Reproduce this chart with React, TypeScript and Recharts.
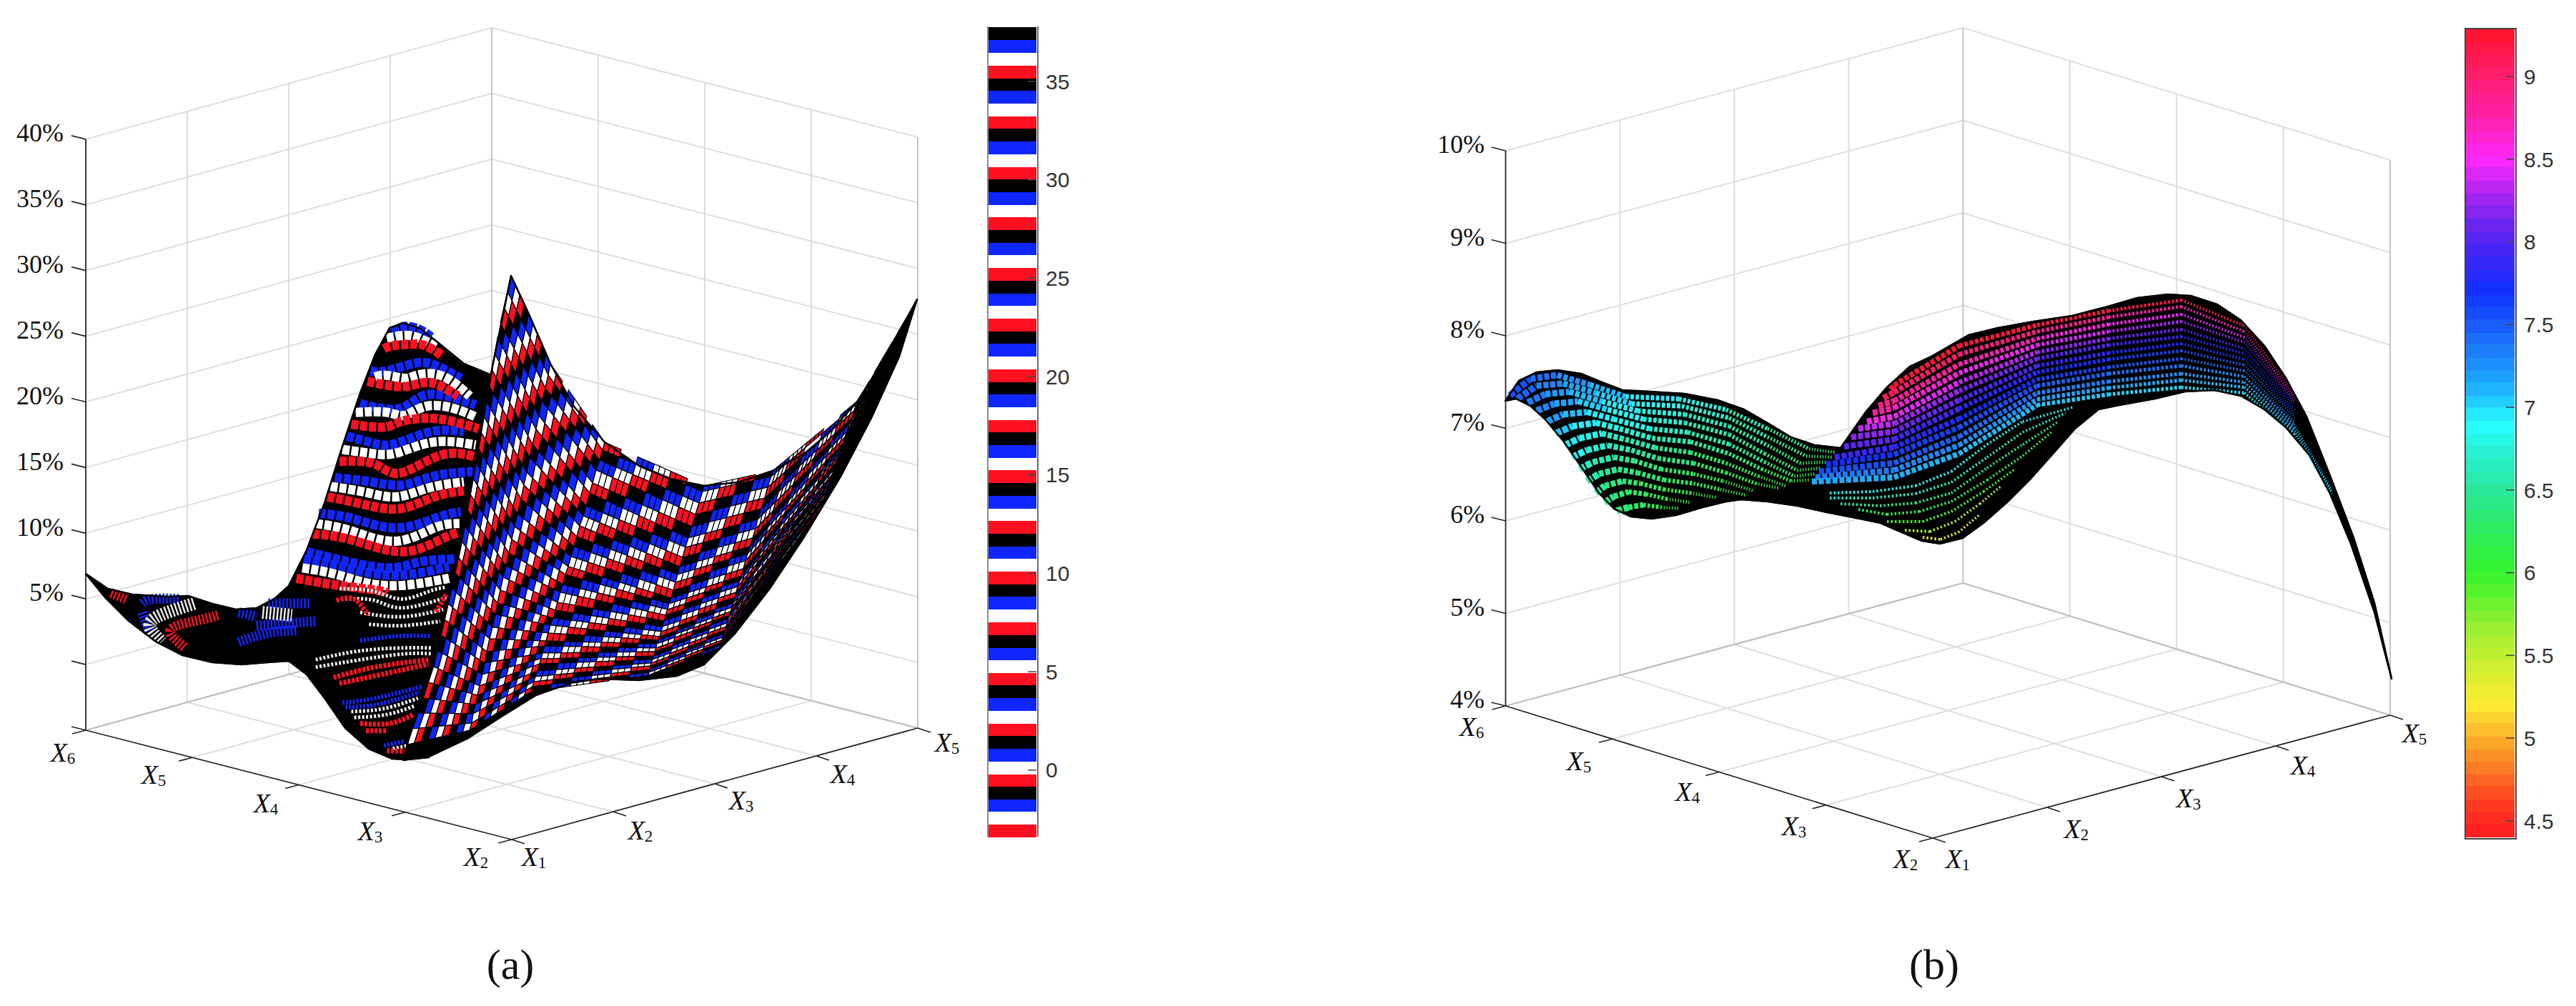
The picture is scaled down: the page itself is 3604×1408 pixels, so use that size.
import { ScatterChart, Scatter, XAxis, YAxis, BarChart, Bar } from "recharts";

// ---- colorbar band edges, read bottom to top
const bandEdgesA = [-3.42,-2.78,-2.13,-1.49,-0.85,-0.21,0.44,1.08,1.72,2.37,3.01,3.65,4.3,4.94,5.58,6.22,6.87,7.51,8.15,8.8,9.44,10.08,10.73,11.37,12.01,12.66,13.3,13.94,14.58,15.23,15.87,16.51,17.16,17.8,18.44,19.09,19.73,20.37,21.01,21.66,22.3,22.94,23.59,24.23,24.87,25.52,26.16,26.8,27.44,28.09,28.73,29.37,30.02,30.66,31.3,31.95,32.59,33.23,33.87,34.52,35.16,35.8,36.45,37.09,37.76];
const bandEdgesB = [4.4,4.48,4.55,4.63,4.71,4.78,4.86,4.93,5.01,5.09,5.16,5.24,5.32,5.39,5.47,5.55,5.62,5.7,5.77,5.85,5.93,6,6.08,6.16,6.23,6.31,6.38,6.46,6.54,6.61,6.69,6.77,6.84,6.92,7,7.07,7.15,7.22,7.3,7.38,7.45,7.53,7.61,7.68,7.76,7.83,7.91,7.99,8.06,8.14,8.22,8.29,8.37,8.45,8.52,8.6,8.67,8.75,8.83,8.9,8.98,9.06,9.13,9.21,9.29];
const cbarTicksA = [0, 5, 10, 15, 20, 25, 30, 35];
const cbarTicksB = [4.5, 5, 5.5, 6, 6.5, 7, 7.5, 8, 8.5, 9];

// ---- axis ticks
const zTicksA = [-5, 0, 5, 10, 15, 20, 25, 30, 35, 40];
const zTicksB = [4, 5, 6, 7, 8, 9, 10];
const leftNames = ["X6", "X5", "X4", "X3", "X2"];
const rightNames = ["X1", "X2", "X3", "X4", "X5"];

// ---- panel (a) outlines
const aOutline = [120,803,151,824,185,832,234,835,263,834,297,845,330,853,359,851,384,838,404,820,429,770,454,704,479,625,504,550,525,496,545,459,564,452,587,459,616,482,649,509,690,526,690,700,600,1060,570,1063,549,1062,516,1048,483,1019,454,977,429,944,404,925,375,927,338,930,297,927,255,917,218,898,180,869,147,836];
const aFlankOutline = [715,386,741,442,770,509,803,569,846,619,894,652,937,670,985,680,1033,675,1081,659,1124,636,1162,604,1200,561,1243,494,1283,419,1258,499,1219,585,1176,667,1124,753,1076,825,1028,887,985,930,947,946,894,952,837,950,798,956,750,973,703,1002,655,1033,602,1058,564,1064,573,1030,588,987,607,930,626,848,643,772,664,657,688,518];

// ---- panel (a) flank: mesh rows read at six columns of the sheet
const flankEdge = [715,386,710,408,705,430,700,452,696,473,692,495,688,517,684,539,680,561,677,583,673,605,669,627,666,648,662,670,658,692,654,714,650,736,646,758,641,780,637,802,632,823,627,845,622,867,617,889,612,911,606,933,599,955,592,977,585,998,577,1020,570,1042];
const flankColA = [770,509,767,525,763,543,758,561,754,582,750,601,745,622,741,640,737,661,733,679,729,698,724,719,720,737,716,755,712,774,708,792,704,808,700,826,696,844,693,860,689,878,685,894,681,912,678,928,675,944,671,960,668,973,665,986,662,999,660,1012,657,1022];
const flankColB = [846,619,843,630,839,644,834,658,829,676,825,690,820,708,816,722,811,736,807,751,803,765,799,779,795,793,791,804,787,818,784,829,780,843,777,854,774,865,770,875,767,886,764,897,762,904,759,914,757,922,755,929,752,939,749,947,747,954,745,961,743,968];
const flankColC = [985,680,983,688,978,704,973,720,968,737,963,753,959,766,955,780,951,793,948,804,945,815,942,826,939,837,936,845,934,853,931,861,929,869,927,877,925,884,923,891,921,896,919,901,918,907,916,912,915,918,913,923,911,928,910,932,909,937,908,941,907,945];
const flankColD = [1081,659,1079,667,1074,682,1070,697,1065,712,1060,727,1057,740,1053,753,1049,765,1046,775,1043,785,1040,796,1037,806,1035,813,1032,821,1030,829,1028,836,1026,844,1024,850,1022,856,1020,861,1019,866,1017,872,1016,877,1014,882,1013,887,1011,892,1010,896,1009,899,1008,903,1006,907];
const flankColE = [1200,561,1198,566,1195,575,1192,585,1188,594,1185,604,1182,612,1180,620,1177,628,1175,634,1172,640,1170,647,1168,653,1166,658,1165,663,1163,668,1161,672,1160,677,1158,681,1157,685,1156,688,1155,691,1154,695,1153,698,1152,701,1150,704,1149,707,1149,710,1148,712,1147,714,1146,717];
const flankTip = [1281, 423];

// ---- panel (a) contour stripes, read in the crop at (110,430)
const ridgeBlue = [
  [1060,85,1100,65,1150,75,1190,100],
  [985,215,1040,215,1130,190,1200,195,1290,240],
  [950,325,1010,340,1090,340,1160,300,1240,300,1340,330],
  [905,435,1000,460,1070,460,1190,420,1300,420],
  [865,575,990,590,1095,600,1200,570,1330,555],
  [810,695,930,715,1075,745,1210,710,1290,690],
  [770,825,870,850,1040,880,1150,860,1270,850],
  [760,850,880,875,1060,905,1250,875],
];
const ridgeWhite = [
  [1040,105,1100,95,1150,105,1210,135],
  [1000,235,1040,230,1100,240,1140,230,1200,225,1260,250,1320,300],
  [935,355,1040,355,1100,365,1170,335,1260,340,1340,370],
  [890,480,1000,495,1080,490,1200,455,1340,465],
  [850,605,970,625,1075,640,1180,610,1300,590],
  [800,730,920,755,1070,790,1200,745,1285,730],
  [755,880,880,905,1040,940,1250,915],
];
const ridgeRed = [
  [1030,140,1060,130,1120,125,1170,130,1230,165],
  [975,250,1050,265,1120,265,1190,255,1280,300],
  [920,395,1030,405,1090,385,1190,375,1280,390,1350,410],
  [880,520,1000,530,1085,560,1220,500,1340,505],
  [840,640,960,665,1085,680,1200,640,1300,620],
  [790,765,920,785,1090,825,1220,785,1280,760],
  [735,915,850,935,1000,955,1040,965],
];
const funnelWhite = [
  [880,950,1000,960,1090,985,1180,960,1240,945],
  [900,985,1000,990,1090,1015,1240,980],
  [950,1030,1090,1045,1230,1020],
  [980,1070,1090,1075,1220,1060],
  [800,1190,950,1160,1100,1150,1190,1150],
  [800,1215,950,1190,1100,1170,1190,1170],
  [920,1365,1030,1355,1145,1320],
  [930,1385,1040,1375,1135,1345],
  [1060,1490,1120,1478],
];
const funnelRed = [
  [870,990,930,985,975,1040],
  [1240,970,1205,1030],
  [860,1250,1000,1215,1180,1190],
  [880,1270,1020,1240,1180,1205],
  [950,1405,1050,1405,1130,1375],
  [970,1430,1040,1430],
  [1040,1497,1120,1500],
];
const funnelBlue = [
  [950,1125,1080,1110,1190,1110],
  [890,1335,1000,1320,1160,1280],
  [900,1350,1010,1340,1150,1300],
  [1030,1480,1100,1465],
];
const lobeBlue = [
  [215,1000,250,985,340,985],
  [215,1030,240,1100],
  [540,1030,600,1045],
  [640,1000,780,1000],
  [540,1130,640,1100,740,1090],
  [600,1075,800,1060],
];
const lobeWhite = [
  [390,1000,300,1030,240,1070,280,1130],
  [620,1030,720,1040],
];
const lobeRed = [
  [470,1040,390,1060,310,1090,360,1150],
  [110,965,160,985],
];

// ---- panel (b) outline
const bOutline = [2106,561,2125,533,2150,521,2179,518,2212,523,2241,535,2270,546,2307,548,2357,551,2403,560,2440,573,2473,592,2506,612,2539,623,2575,627,2610,577,2639,543,2672,513,2700,500,2721,488,2754,469,2795,459,2845,450,2899,442,2949,429,2990,417,3032,412,3065,414,3102,426,3135,448,3168,484,3198,529,3227,583,3260,666,3293,753,3322,844,3346,950,3322,857,3289,761,3260,691,3231,637,3198,598,3168,573,3135,554,3098,546,3057,548,3015,558,2965,567,2936,573,2903,600,2874,633,2841,670,2808,703,2775,732,2746,753,2714,761,2689,757,2656,743,2631,732,2597,725,2556,717,2515,708,2473,702,2436,699,2415,702,2382,710,2345,721,2311,726,2282,723,2258,712,2237,690,2212,653,2187,617,2162,587,2141,568,2121,558];

// ---- panel (b) left lobe rows, read in the crop at (2100,480)
const lobeRowsB = [
  [30,220,100,150,190,135,300,175,420,225,600,235,760,280,900,360,1040,445,1130,460],
  [55,235,120,180,210,170,320,210,440,255,610,265,770,315,900,395,1030,475,1120,480],
  [90,250,150,215,230,205,340,245,460,285,620,300,770,350,900,430,1010,505,1100,500],
  [120,285,180,255,260,245,360,280,480,320,620,335,770,385,890,465,1000,535,1080,525],
  [155,330,210,300,290,290,380,320,500,360,630,375,770,425,890,500,990,560,1060,550],
  [185,380,240,350,320,335,400,360,510,400,640,415,770,465,880,530,980,580,1040,575],
  [215,430,265,400,340,380,420,405,520,440,640,460,760,505,870,560,960,600],
  [240,480,290,450,360,430,440,450,530,485,650,505,760,545,860,590,940,610],
  [265,530,310,500,380,480,450,495,540,530,650,550,750,580,850,620],
  [290,580,330,550,395,530,460,545,550,575,650,590,740,615,830,640],
  [320,630,350,600,410,580,470,590,550,615,640,630,730,650],
  [350,670,380,645,430,625,490,635,560,655,640,670],
  [390,705,430,690,480,680,540,690,600,695],
];
const lobeStartB = [7.55,7.45,7.35,7.3,7.2,7.05,6.95,6.85,6.7,6.6,6.5,6.45,6.4];
const lobeEndB = [6.35,6.3,6.25,6.2,6.2,6.15,6.1,6.1,6.1,6.1,6.1,6.1,6.1];

// ---- panel (b) back sheet: row heights at each column
const sheetColX = [2650, 2741, 2850, 2950, 3052, 3140, 3210, 3262];
const sheetStart = [2645,545,2635,557,2628,568,2620,578,2612,590,2600,600,2590,612,2580,625,2567,640,2555,650,2545,660,2540,668,2535,674];
const sheetCol1 = [539,549,561,571,583,593,604,615,626,636,648,658,668];
const sheetCol2 = [484,496,510,522,535,547,560,572,586,598,611,623,635];
const sheetCol3 = [455,464,474,483,493,502,512,521,531,540,550,559,567];
const sheetCol4 = [435,444,454,464,474,483,494,503,514,523,534,543,552];
const sheetCol5 = [420,429,440,450,461,471,481,491,502,512,523,532,542];
const sheetCol6 = [456,464,472,479,488,495,503,511,519,527,535,542,550];
const sheetCol7 = [551,556,561,565,570,575,580,584,590,594,599,604,608];
const sheetCol8 = [669,671,673,674,676,678,680,682,684,685,687,689,691];
const sheetLeftVal = [9.25,9.1,8.9,8.75,8.55,8.35,8.2,8.05,7.9,7.7,7.55,7.35,7.15];
const sheetRightVal = [9.1,8.6,8.3,8.05,7.85,7.7,7.55,7.4,7.3,7.15,7.05,6.95,6.9];

// ---- panel (b) lower fold
const foldRows = [
  [2560,690,2620,688,2680,680,2730,660,2780,622,2830,590,2900,570],
  [2560,697,2620,697,2680,691,2730,675,2780,640,2830,605,2890,578],
  [2575,705,2630,708,2680,704,2730,690,2780,655,2830,622,2880,590],
  [2600,713,2640,720,2685,716,2730,702,2780,672,2830,638,2870,605],
  [2640,730,2690,730,2730,716,2775,688,2820,656],
  [2665,742,2700,744,2735,730,2770,705,2800,680],
  [2690,752,2715,755,2740,745,2770,720],
];
const foldVal = [6.85,6.7,6.45,6.2,5.95,5.6,5.3];

// ---- layout and style
const W = 3604, H = 1408;
const frameA = { L: [120,1022], F: [716,1175], B: [688,866], step: 91.9 };
const frameB = { L: [2106.5,988], F: [2704,1173], B: [2746.5,816], step: 129.5 };
const BLUE = "#1026ff", RED = "#ff1020", WHITE = "#ffffff";
const barCycle = [RED, WHITE, BLUE, "#000000"]; // bottom to top of bar (a)
const meshCycle = [BLUE, WHITE, RED, null]; // down a column of the flank
const flankCells = [9, 9, 6, 4, 5, 10];
const flankSeps = [1, 1, 3, 3, 4, 2];
const colormapB: [number, string][] = [[4.4,"#ff1a20"],[4.6,"#ff3a20"],[4.8,"#fb7525"],[5,"#fcb02b"],[5.2,"#fde932"],[5.45,"#cdf030"],[5.7,"#8fef30"],[6,"#34f52c"],[6.25,"#2ced5c"],[6.5,"#2ae89a"],[6.75,"#28f2d8"],[6.9,"#26ffff"],[7.1,"#1fb5ff"],[7.4,"#1d70fb"],[7.7,"#1030ff"],[7.9,"#3a25f5"],[8.1,"#6a25f0"],[8.3,"#b025f0"],[8.5,"#ff28ff"],[8.75,"#ff1ea8"],[9,"#ff1e70"],[9.29,"#ff1428"]];
const SERIF = "'Liberation Serif', 'Times New Roman', serif";
const SANS = "'Liberation Sans', Arial, sans-serif";

function hexMix(a: string, b: string, t: number) {
  const ch = (h: string, i: number) => parseInt(h.slice(1 + i * 2, 3 + i * 2), 16);
  const out = [0, 1, 2].map((i) => Math.round(ch(a, i) + (ch(b, i) - ch(a, i)) * t));
  return `rgb(${out.join(",")})`;
}
function colorOf(v: number) {
  for (let i = 1; i < colormapB.length; i++) {
    if (v <= colormapB[i][0]) {
      const [a, ca] = colormapB[i - 1];
      const [b, cb] = colormapB[i];
      return hexMix(ca, cb, Math.max(0, (v - a) / (b - a)));
    }
  }
  return colormapB[colormapB.length - 1][1];
}

const pairs = (flat: number[]) => {
  const out: { x: number; y: number }[] = [];
  for (let i = 0; i < flat.length; i += 2) out.push({ x: flat[i], y: flat[i + 1] });
  return out;
};
const cropA = (flat: number[]) => pairs(flat).map((p) => ({ x: 110 + p.x / 2.412, y: 430 + p.y / 2.412 }));
const cropB = (flat: number[]) => pairs(flat).map((p) => ({ x: 2100 + p.x / 2.412, y: 480 + p.y / 3 }));

const project = (f: typeof frameA, u: number, v: number, h: number) => ({
  x: f.L[0] + (u / 4) * (f.F[0] - f.L[0]) + (v / 4) * (f.B[0] - f.L[0]),
  y: f.L[1] + (u / 4) * (f.F[1] - f.L[1]) + (v / 4) * (f.B[1] - f.L[1]) - h * f.step,
});

const noDot = () => <g />;

function seg(key: string, pts: any[], stroke: string, width: number) {
  return (
    <Scatter key={key} data={pts} shape={noDot} isAnimationActive={false}
      line={{ stroke, strokeWidth: width }} />
  );
}

function frame(id: string, f: typeof frameA, levels: number) {
  const out: any[] = [];
  const grid = "#dedede";
  for (let h = 1; h <= levels; h++) {
    out.push(seg(`${id}h${h}a`, [project(f,0,0,h), project(f,0,4,h)], grid, 2));
    out.push(seg(`${id}h${h}b`, [project(f,0,4,h), project(f,4,4,h)], grid, 2));
  }
  for (let v = 1; v <= 4; v++) out.push(seg(`${id}v${v}`, [project(f,0,v,0), project(f,0,v,levels)], v === 4 ? "#c4c4c4" : grid, 2));
  for (let u = 1; u <= 4; u++) out.push(seg(`${id}u${u}`, [project(f,u,4,0), project(f,u,4,levels)], u === 4 ? "#c4c4c4" : grid, 2));
  for (let i = 1; i < 4; i++) {
    out.push(seg(`${id}fu${i}`, [project(f,i,0,0), project(f,i,4,0)], grid, 2));
    out.push(seg(`${id}fv${i}`, [project(f,0,i,0), project(f,4,i,0)], grid, 2));
  }
  out.push(seg(`${id}b1`, [project(f,0,0,0), project(f,0,4,0)], "#bdbdbd", 2.2));
  out.push(seg(`${id}b2`, [project(f,0,4,0), project(f,4,4,0)], "#bdbdbd", 2.2));
  return out;
}

function axes(id: string, f: typeof frameA, levels: number) {
  const out: any[] = [];
  const ink = "#262626";
  out.push(seg(`${id}ax0`, [project(f,0,0,0), project(f,0,0,levels)], ink, 1.8));
  out.push(seg(`${id}ax1`, [project(f,0,0,0), project(f,4,0,0)], ink, 1.8));
  out.push(seg(`${id}ax2`, [project(f,4,0,0), project(f,4,4,0)], ink, 1.8));
  for (let h = 0; h <= levels; h++) {
    const p = project(f,0,0,h);
    out.push(seg(`${id}tz${h}`, [p, { x: p.x - 20, y: p.y - 5 }], ink, 1.8));
  }
  for (let u = 0; u <= 4; u++) {
    const p = project(f,u,0,0);
    out.push(seg(`${id}tu${u}`, [p, { x: p.x - 19, y: p.y + 5 }], ink, 1.8));
  }
  for (let v = 0; v <= 4; v++) {
    const p = project(f,4,v,0);
    out.push(seg(`${id}tv${v}`, [p, { x: p.x + 18, y: p.y + 6 }], ink, 1.8));
  }
  return out;
}

function polygon(key: string, flat: number[], fill: string, width: number) {
  return (
    <Scatter key={key} data={pairs(flat)} shape={noDot} isAnimationActive={false}
      lineJointType="linearClosed" line={{ stroke: "#000", strokeWidth: width, fill, strokeLinejoin: "round" }} />
  );
}

function stripes(key: string, rows: number[][], color: string, width: number, dash: string) {
  return rows.map((r, i) => (
    <Scatter key={`${key}${i}`} data={cropA(r)} shape={noDot} isAnimationActive={false} lineJointType="natural"
      line={{ stroke: color, strokeWidth: width, strokeDasharray: dash }} />
  ));
}

// flank mesh: the scaled nodes come back row by row, cells are cut between two rows
function flankMesh(rowCount: number, nodeCount: number) {
  return (props: any) => {
    const pts = props.points;
    const at = (r: number, n: number) => pts[r * nodeCount + n];
    const parts: any[] = [];
    for (let r = 0; r < rowCount - 1; r++) {
      let j = 0;
      for (let i = 0; i < nodeCount - 1; i++) {
        const steps = flankCells[i] * flankSeps[i];
        const a0 = at(r, i), b0 = at(r, i + 1), a1 = at(r + 1, i), b1 = at(r + 1, i + 1);
        const cellW = Math.hypot(b0.x - a0.x, b0.y - a0.y) / steps;
        const cellH = Math.hypot(a1.x - a0.x, a1.y - a0.y);
        const ink = Math.min(1.2, 0.4 * Math.min(cellW, cellH));
        for (let s = 0; s < steps; s++) {
          const c = meshCycle[(r + j + Math.floor(s / flankSeps[i])) % 4];
          if (c) {
            const t0 = s / steps, t1 = (s + 1) / steps;
            const q = [
              [a0.x + (b0.x - a0.x) * t0, a0.y + (b0.y - a0.y) * t0],
              [a0.x + (b0.x - a0.x) * t1, a0.y + (b0.y - a0.y) * t1],
              [a1.x + (b1.x - a1.x) * t1, a1.y + (b1.y - a1.y) * t1],
              [a1.x + (b1.x - a1.x) * t0, a1.y + (b1.y - a1.y) * t0],
            ];
            parts.push(<polygon key={`${r}-${i}-${s}`} points={q.map((p) => p.join(",")).join(" ")} fill={c} stroke="#000" strokeWidth={ink} />);
          }
        }
        j += flankCells[i];
      }
    }
    return <g>{parts}</g>;
  };
}

// one mesh row of panel (b): colour follows the colorbar, cells get denser to the right
function valueLine(v0: number, v1: number, wA: number, wB: number, onA: number, onB: number, off: number) {
  return (props: any) => {
    const pts = props.points;
    const last = pts.length - 1;
    const parts: any[] = [];
    for (let i = 0; i < last; i++) {
      const t = i / Math.max(1, last - 1);
      const a = pts[i], b = pts[i + 1];
      parts.push(
        <line key={i} x1={a.x} y1={a.y} x2={b.x} y2={b.y} stroke={colorOf(v0 + (v1 - v0) * t)}
          strokeWidth={wA + (wB - wA) * t} strokeDasharray={`${onA + (onB - onA) * t} ${off}`} />
      );
    }
    return <g>{parts}</g>;
  };
}

function valueRows(key: string, rows: any[][], v0: number[], v1: number[], st: number[]) {
  return rows.map((r, i) => (
    <Scatter key={`${key}${i}`} data={r} shape={noDot} isAnimationActive={false}
      line={valueLine(v0[i], v1[i], st[0], st[1], st[2], st[3], st[4])} />
  ));
}

const TextMark = (p: any) => {
  const d = p.payload;
  return (
    <text x={p.cx} y={p.cy} textAnchor={d.anchor} dominantBaseline="middle" fontFamily={SERIF}
      fontSize={d.size} fill="#111">{d.text}</text>
  );
};
const AxisName = (p: any) => {
  const name = p.payload.name;
  return (
    <text x={p.cx} y={p.cy} textAnchor="middle" dominantBaseline="middle" fontFamily={SERIF} fill="#111">
      <tspan fontStyle="italic" fontSize={38}>{name[0]}</tspan>
      <tspan fontSize={23} dy={7}>{name[1]}</tspan>
    </text>
  );
};
function textMark(key: string, x: number, y: number, text: string, size: number, anchor: string) {
  return <Scatter key={key} data={[{ x, y, text, size, anchor }]} shape={TextMark} isAnimationActive={false} />;
}
function nameMark(key: string, x: number, y: number, name: string) {
  return <Scatter key={key} data={[{ x, y, name }]} shape={AxisName} isAnimationActive={false} />;
}

const namesA: [number, number][] = [[88,1057],[215,1088],[372,1128],[518,1167],[666,1203]];
const namesAr: [number, number][] = [[747,1203],[896,1166],[1037,1124],[1179,1087],[1325,1043]];
const namesB: [number, number][] = [[2059,1021],[2209,1069],[2361,1112],[2510,1160],[2666,1206]];
const namesBr: [number, number][] = [[2739,1206],[2905,1164],[3062,1121],[3222,1075],[3378,1030]];

function Colorbar({ edges, ticks, colorFor, left, top, bottom, width, framed }: any) {
  const row: any = { name: "bar" };
  const bars: any[] = [];
  const min = edges[0], max = edges[edges.length - 1];
  if (min > 0) {
    row.base = min;
    bars.push(<Bar key="base" dataKey="base" stackId="c" fill="none" isAnimationActive={false} />);
  }
  // negatives stack down from zero, so they go nearest-first
  const idx = edges.slice(0, -1).map((_: number, i: number) => i);
  const add = (key: string, value: number, i: number) => {
    row[key] = value;
    bars.push(<Bar key={key} dataKey={key} stackId="c" fill={colorFor(i)} isAnimationActive={false} shapeRendering="crispEdges" />);
  };
  [...idx].reverse().forEach((i: number) => {
    if (edges[i] < 0) add(`n${i}`, edges[i] - Math.min(edges[i + 1], 0), i);
  });
  idx.forEach((i: number) => {
    if (edges[i + 1] > 0) add(`p${i}`, edges[i + 1] - Math.max(edges[i], 0), i);
  });
  const border = framed ? "2px solid #444" : undefined;
  return (
    <div style={{ position: "absolute", left, top: 0 }}>
      <BarChart width={width + 90} height={H} data={[row]} stackOffset="sign" barCategoryGap={0} barGap={0}
        margin={{ top, bottom: H - bottom, left: 0, right: 0 }}>
        <XAxis dataKey="name" hide />
        <YAxis type="number" orientation="right" width={90} domain={[min, max]} allowDataOverflow ticks={ticks} interval={0}
          axisLine={false} tickLine={{ stroke: "#444", strokeWidth: 1.5 }} tickSize={-12} tickMargin={25}
          tick={{ fontFamily: SANS, fontSize: 30, fill: "#333", textAnchor: "start" }} />
        {bars}
      </BarChart>
      <div style={{ position: "absolute", left: -1, top: top - 1, width, height: bottom - top, pointerEvents: "none",
        borderLeft: framed ? border : "2px solid #8a8a8a", borderRight: framed ? border : "2px solid #6a6a6a", borderTop: border, borderBottom: border }} />
    </div>
  );
}

export default function App() {
  const flankCols = [flankEdge, flankColA, flankColB, flankColC, flankColD, flankColE].map(pairs);
  const flankNodes = flankCols[0].flatMap((_, k) => [...flankCols.map((c) => c[k]), { x: flankTip[0], y: flankTip[1] }]);
  const sheetCols = [sheetCol1, sheetCol2, sheetCol3, sheetCol4, sheetCol5, sheetCol6, sheetCol7, sheetCol8];
  // the upper rows go black before the far end, only the lowest ones reach it
  const sheetRows = pairs(sheetStart).map((s, k) => {
    const row = [s, ...sheetColX.map((x, c) => ({ x, y: sheetCols[c][k] }))];
    return k < 9 ? row.slice(0, -1) : row;
  });

  return (
    <div style={{ position: "absolute", left: 0, top: 0, width: W, height: H, background: "#fff", overflow: "hidden" }}>
      <div style={{ position: "absolute", left: 0, top: 0 }}>
        <ScatterChart width={W} height={H} margin={{ top: 0, right: 0, bottom: 0, left: 0 }}>
          <XAxis type="number" dataKey="x" domain={[0, W]} hide allowDataOverflow />
          <YAxis type="number" dataKey="y" domain={[0, H]} reversed hide allowDataOverflow width={0} />

          {frame("a", frameA, zTicksA.length - 1)}
          {frame("b", frameB, zTicksB.length - 1)}

          {polygon("aBody", aOutline, "#000", 2)}
          {stripes("lb", lobeBlue, BLUE, 14, "2.5 2.5")}
          {stripes("lw", lobeWhite, "#e8e8e8", 18, "2.5 2.5")}
          {stripes("lr", lobeRed, RED, 14, "2.5 2.5")}
          {stripes("rb", ridgeBlue, BLUE, 13, "10 2.5")}
          {stripes("rw", ridgeWhite, WHITE, 13, "10 2.5")}
          {stripes("rr", ridgeRed, RED, 13, "10 2.5")}
          {stripes("fw", funnelWhite, "#f2f2f2", 5, "3 2.5")}
          {stripes("fr", funnelRed, RED, 7, "4 2")}
          {stripes("fb", funnelBlue, BLUE, 6, "3 2")}
          {polygon("aBodyEdge", aOutline, "none", 2.5)}
          {polygon("aFlank", aFlankOutline, "#000", 2)}
          <Scatter data={flankNodes} shape={noDot} isAnimationActive={false} line={flankMesh(flankCols[0].length, 7)} />
          {polygon("aFlankEdge", aFlankOutline, "none", 2.5)}
          {axes("a", frameA, zTicksA.length - 1)}

          {polygon("bBody", bOutline, "#000", 2)}
          {valueRows("bl", lobeRowsB.map(cropB), lobeStartB, lobeEndB, [9.5, 4.5, 8, 1.4, 2.4])}
          {valueRows("bs", sheetRows, sheetLeftVal, sheetRightVal, [8.5, 2.8, 7, 1, 2.6])}
          {valueRows("bf", foldRows.map(pairs), foldVal, foldVal, [4, 3.5, 2.5, 2, 3])}
          {polygon("bEdge", bOutline, "none", 2.5)}
          {axes("b", frameB, zTicksB.length - 1)}

          {zTicksA.filter((t) => t > 0).map((t) => textMark(`za${t}`, 89, project(frameA, 0, 0, (t + 5) / 5).y - 5, `${t}%`, 36, "end"))}
          {zTicksB.map((t) => textMark(`zb${t}`, 2077, project(frameB, 0, 0, t - 4).y - 5, `${t}%`, 36, "end"))}
          {leftNames.map((n, i) => nameMark(`na${i}`, namesA[i][0], namesA[i][1], n))}
          {rightNames.map((n, i) => nameMark(`nr${i}`, namesAr[i][0], namesAr[i][1], n))}
          {leftNames.map((n, i) => nameMark(`nb${i}`, namesB[i][0], namesB[i][1], n))}
          {rightNames.map((n, i) => nameMark(`ns${i}`, namesBr[i][0], namesBr[i][1], n))}
          {textMark("capA", 714, 1356, "(a)", 60, "middle")}
          {textMark("capB", 2706, 1356, "(b)", 60, "middle")}
        </ScatterChart>
      </div>
      <Colorbar edges={bandEdgesA} ticks={cbarTicksA} colorFor={(i: number) => barCycle[i % 4]} left={1382} top={38} bottom={1172} width={68} />
      <Colorbar edges={bandEdgesB} ticks={cbarTicksB} colorFor={(i: number) => colorOf((bandEdgesB[i] + bandEdgesB[i + 1]) / 2)}
        left={3449} top={40} bottom={1172} width={69} framed />
    </div>
  );
}
